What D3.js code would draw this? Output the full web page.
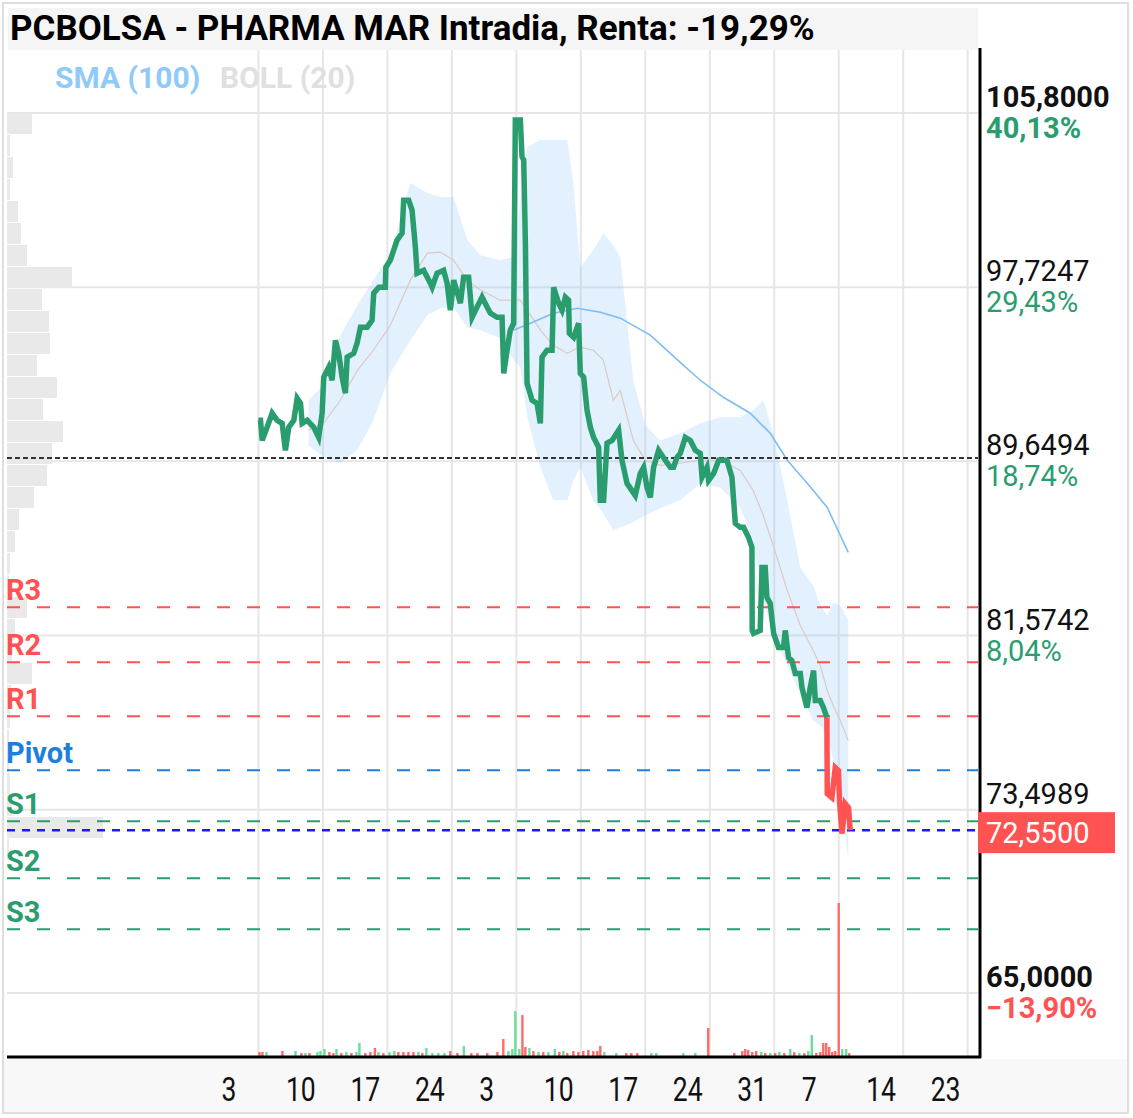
<!DOCTYPE html>
<html>
<head>
<meta charset="utf-8">
<script src="https://cdn.jsdelivr.net/npm/d3@7"></script>
<style>
  body { margin: 0; background: #fff; }
  text { font-family: Roboto, "Noto Sans", sans-serif; }
</style>
</head>
<body>
<svg id="chart" width="1133" height="1118"></svg>
<script>
// ---------- data (x = trading days from first session) ----------
const chartTitle = "PCBOLSA - PHARMA MAR Intradia, Renta: -19,29%";

// intraday price path [day, price]
const priceSeries = [
  [0.00,91.55],[0.16,91.55],[0.29,90.62],[0.67,91.23],[1.06,91.88],[1.45,91.55],[1.84,91.41],[2.09,90.16],
  [2.35,91.23],[2.74,91.55],[3.00,92.57],[3.26,92.34],[3.39,91.41],[3.78,91.55],[4.29,91.23],[4.67,90.76],
  [4.94,91.88],[5.06,93.55],[5.45,94.01],[5.71,93.41],[5.97,95.26],[6.22,94.66],[6.49,93.55],[6.74,92.81],
  [6.88,94.48],[7.39,94.66],[7.65,95.13],[7.91,95.87],[8.43,95.87],[8.81,96.19],[8.94,97.45],[9.33,97.72],
  [9.84,97.72],[9.88,98.65],[10.23,98.98],[10.75,99.91],[11.14,100.23],[11.26,101.76],[11.65,101.76],[11.91,101.30],
  [12.17,99.58],[12.30,98.37],[12.81,98.51],[13.33,97.91],[13.47,97.72],[13.85,98.37],[14.36,98.51],[14.63,97.91],
  [14.88,96.66],[15.14,98.05],[15.66,96.98],[15.91,98.19],[16.30,98.19],[16.57,96.33],[16.95,96.80],[17.34,97.26],
  [17.73,96.80],[17.98,96.52],[18.50,96.33],[18.89,96.33],[19.02,93.73],[19.28,94.80],[19.53,95.73],[19.79,96.05],
  [19.92,105.48],[20.31,105.48],[20.44,103.76],[20.57,103.62],[20.70,99.77],[20.83,93.27],[21.22,92.48],[21.60,92.34],
  [21.86,91.41],[21.99,94.48],[22.38,94.80],[22.77,94.80],[22.89,97.72],[23.28,96.98],[23.54,96.66],[23.80,97.26],
  [24.05,97.12],[24.11,95.59],[24.44,95.40],[24.83,96.05],[24.96,93.73],[25.22,93.55],[25.48,92.02],[25.74,91.23],
  [25.99,90.76],[26.38,90.30],[26.51,87.84],[26.77,87.84],[27.03,90.49],[27.42,90.62],[27.93,91.09],[28.19,89.70],
  [28.58,88.63],[29.22,88.07],[29.61,89.09],[29.87,89.37],[30.13,88.44],[30.39,87.98],[30.64,89.37],[31.03,90.16],
  [31.55,89.70],[31.94,89.37],[32.19,89.37],[32.46,89.83],[32.71,90.02],[33.10,90.76],[33.49,90.62],[33.88,90.16],
  [34.26,90.02],[34.40,88.91],[34.78,89.37],[34.91,88.77],[35.30,89.09],[35.69,89.70],[36.33,89.70],[36.72,88.91],
  [36.98,86.77],[37.36,86.59],[37.62,86.59],[38.01,86.12],[38.27,85.66],[38.29,81.81],[38.39,81.67],[38.91,81.81],
  [39.05,84.73],[39.30,84.73],[39.43,83.34],[39.69,83.06],[39.95,81.67],[40.33,81.02],[40.72,81.02],[40.85,81.81],
  [41.11,80.55],[41.37,80.41],[41.63,79.81],[42.02,79.81],[42.15,79.16],[42.53,78.23],[42.79,79.16],[43.05,79.95],
  [43.18,78.56],[43.57,78.56],[43.82,78.23],[44.08,77.77],
  [44.11,74.24],[44.47,74.06],[44.73,75.45],[44.98,75.31],[45.06,73.92],[45.25,72.39],[45.50,73.78],[45.76,73.59],
  [45.89,72.55]
];
const lastSessionStart = 44.08;   // today's session is drawn red
const lastPrice = 72.55;
const refPrice = 89.8;            // dotted reference line

// Bollinger (20)
const bandDays  = [3.88,5.04,6.36,7.67,8.91,10.23,11.78,13.10,14.11,15.12,16.20,17.21,18.76,19.77,20.31,20.85,21.86,22.87,23.95,24.42,24.96,25.97,26.74,27.52,28.06,29.07,30.00,31.16,32.71,34.26,35.81,37.36,38.37,39.15,39.92,41.01,42.02,43.02,43.57,44.11,44.57,45.12,45.74];
const bandUpper = [92.48,93.18,95.50,96.89,98.05,99.30,102.55,102.09,101.90,101.90,99.91,99.21,98.98,99.12,101.76,104.22,104.55,104.55,104.55,102.55,98.65,99.44,100.23,99.67,99.12,93.41,91.32,90.62,90.95,91.41,91.69,91.69,92.02,92.48,90.95,87.84,84.73,83.89,82.97,82.50,83.11,82.97,82.27];
const bandMid   = [91.09,91.41,92.48,93.87,94.80,95.96,98.05,99.30,99.35,98.98,98.05,97.59,97.12,97.12,97.12,96.66,95.73,95.03,94.66,94.80,94.94,94.80,94.34,92.48,92.94,90.62,89.70,89.46,89.56,89.70,89.70,89.23,88.30,87.14,85.75,83.66,82.04,80.88,80.18,79.02,78.33,77.63,76.70];
const bandLower = [90.39,89.84,89.56,90.16,91.55,93.73,95.26,96.43,96.75,96.80,95.87,95.73,95.36,94.34,94.01,91.69,89.37,87.84,87.84,88.77,89.37,87.84,87.24,86.45,86.59,86.82,87.14,87.47,87.84,88.63,88.44,87.51,85.98,83.20,81.67,80.18,78.88,77.63,77.40,77.03,75.77,73.92,71.27];

// SMA (100)
const smaDays   = [19.77,21.09,22.87,24.73,26.51,28.06,30.39,32.71,34.26,36.05,38.14,39.69,41.01,42.56,44.11,45.74];
const smaValues = [95.73,96.05,96.52,96.75,96.56,96.29,95.50,94.24,93.41,92.62,91.88,90.95,89.70,88.63,87.51,85.43];

// volume bars [day, volume (miles), up?]
const volumeBars = [
  [0.08,5,0],[0.31,5,0],[0.62,5,1],[1.86,6,0],[2.87,6,1],[3.33,4,0],[3.64,4,1],[3.95,4,0],[4.57,5,1],[4.81,6,1],
  [5.12,8,1],[5.50,5,0],[5.81,4,0],[6.05,8,1],[6.43,4,0],[6.82,5,1],[7.21,4,0],[7.60,5,1],[7.83,14,1],[8.29,4,0],
  [8.68,5,0],[9.03,9,0],[9.30,5,1],[9.69,4,0],[10.16,5,1],[10.54,6,1],[10.85,5,0],[11.24,5,0],[11.63,5,0],[12.02,5,0],
  [12.40,5,1],[12.71,4,0],[13.02,9,1],[13.49,4,1],[13.95,4,1],[14.42,4,1],[14.88,6,0],[15.43,4,0],[15.93,11,1],[16.51,4,0],
  [16.98,4,0],[17.75,4,0],[18.53,5,0],[18.99,18,0],[19.38,6,1],[19.69,8,1],[19.92,46,1],[20.23,8,1],[20.47,42,0],[20.70,10,0],
  [21.01,9,1],[21.32,6,0],[21.71,5,1],[22.09,5,0],[22.48,5,1],[22.98,8,1],[23.33,5,0],[23.64,6,1],[23.95,4,0],[24.42,6,0],
  [24.81,5,0],[25.19,6,0],[25.58,7,0],[25.97,6,0],[26.28,6,0],[26.51,11,0],[26.82,5,1],[27.75,4,1],[28.53,4,0],[28.91,4,0],
  [29.38,4,0],[30.47,4,1],[30.85,4,1],[32.95,4,1],[33.88,4,1],[34.88,29,0],[36.90,4,0],[37.52,6,0],[37.75,8,0],[37.98,7,0],
  [38.29,5,0],[38.60,6,0],[38.99,5,1],[39.30,4,0],[39.69,4,1],[40.08,4,0],[40.39,5,1],[40.78,4,0],[41.24,8,1],[41.55,5,0],
  [41.94,4,1],[42.33,4,0],[42.64,6,1],[42.91,22,1],[43.26,4,0],[43.57,5,0],[43.80,14,0],[44.03,14,0],[44.26,10,0],[44.50,5,0],
  [44.73,6,0],[45.00,154,0],[45.27,8,1],[45.58,8,1],[45.81,4,0]
];

// volume profile, 40 price bins from the top of the scale
const profileTop = 105.8;
const profileBin = 1.02;
const profileVolumes = [25,3,6,3,11,14,20,65,35,42,43,30,50,36,56,45,40,27,12,8,3,2,20,8,5,25,4,3,2,2,3,5,96,2,0,0,0,0,0,0];

// pivot levels
const pivotNames  = ["R3","R2","R1","Pivot","S1","S2","S3"];
const pivotValues = [82.88,80.34,77.83,75.33,72.96,70.32,67.95];

// right axis (the change of 73,4989 sits under the last-price box)
const priceTicks = [105.8,97.7247,89.6494,81.5742,73.4989,65];
const pctChanges = [40.13,29.43,18.74,8.04,null,-13.90];

// bottom axis (weekly, trading days)
const weekTicks  = [0,5,10,15,20,25,30,35,40,45,50,55];
const weekLabels = ["3","10","17","24","3","10","17","24","31","7","14","23"];

// ---------- chart ----------
const green = "#2a9d6f", red = "#ff5252";
const svg = d3.select("#chart");
const plot = { left: 7, right: 979, top: 50, bottom: 1057 };

const x = d3.scaleLinear().domain([-19.5, 55.8]).range([7, 978]);
const y = d3.scaleLinear().domain([65, 105.8]).range([993, 113]);
const yVol = d3.scaleLinear().domain([0, 154]).range([plot.bottom, 903]);
const wProfile = d3.scaleLinear().domain([0, 96]).range([0, 96]);

const comma = v => d3.format(".4f")(v).replace(".", ",");
const pct = v => d3.format(".2f")(v).replace(".", ",") + "%";

// frame and panels
svg.append("rect").attr("x", 3).attr("y", 3).attr("width", 1125).attr("height", 1110)
  .attr("fill", "#fff").attr("stroke", "#dedede").attr("stroke-width", 2);
svg.append("rect").attr("x", 4).attr("y", 1059).attr("width", 1123).attr("height", 53).attr("fill", "#f8f8f8");
svg.append("rect").attr("x", 8).attr("y", 8).attr("width", 970).attr("height", 42).attr("fill", "#f5f5f5");

// grid
svg.append("g").selectAll("line").data(weekTicks).join("line")
  .attr("x1", d => x(d)).attr("x2", d => x(d))
  .attr("y1", plot.top).attr("y2", plot.bottom)
  .attr("stroke", "#e6e6e6").attr("stroke-width", 2);
svg.append("g").selectAll("line").data(priceTicks).join("line")
  .attr("x1", plot.left).attr("x2", 978)
  .attr("y1", d => y(d)).attr("y2", d => y(d))
  .attr("stroke", "#e6e6e6").attr("stroke-width", 2);

// volume profile
svg.append("g").selectAll("rect").data(profileVolumes).join("rect")
  .attr("x", plot.left)
  .attr("y", (d, i) => y(profileTop - i * profileBin))
  .attr("width", d => wProfile(d))
  .attr("height", y(profileTop - profileBin) - y(profileTop) - 1)
  .attr("fill", "#e9e9e9");

// Bollinger band
const band = bandDays.map((d, i) => ({ d, u: bandUpper[i], m: bandMid[i], l: bandLower[i] }));
svg.append("path").datum(band)
  .attr("d", d3.area().x(p => x(p.d)).y0(p => y(p.l)).y1(p => y(p.u)))
  .attr("fill", "rgba(144,202,249,0.26)");
svg.append("path").datum(band)
  .attr("d", d3.line().x(p => x(p.d)).y(p => y(p.m)))
  .attr("fill", "none").attr("stroke", "#ddc9c3").attr("stroke-width", 1.2);

// SMA
svg.append("path").datum(smaDays.map((d, i) => [d, smaValues[i]]))
  .attr("d", d3.line().x(p => x(p[0])).y(p => y(p[1])))
  .attr("fill", "none").attr("stroke", "#7dbdf3").attr("stroke-width", 1.6);

// volume bars
svg.append("g").selectAll("rect").data(volumeBars).join("rect")
  .attr("x", d => x(d[0]) - 1.2)
  .attr("y", d => yVol(d[1]))
  .attr("width", 2.4)
  .attr("height", d => plot.bottom - yVol(d[1]))
  .attr("fill", d => d[2] ? "#6fdc9f" : "#ff6b6b");

// pivot lines and labels
const pivotColor = n => n[0] === "R" ? red : n[0] === "S" ? green : "#1e7fe0";
svg.append("g").selectAll("line").data(pivotValues).join("line")
  .attr("x1", plot.left).attr("x2", 978)
  .attr("y1", d => y(d)).attr("y2", d => y(d))
  .attr("stroke", (d, i) => pivotColor(pivotNames[i]))
  .attr("stroke-width", 2).attr("stroke-dasharray", "13,17");
svg.append("g").selectAll("text").data(pivotValues).join("text")
  .attr("x", 6).attr("y", d => y(d) - 7)
  .attr("font-size", 29).attr("font-weight", "bold")
  .attr("fill", (d, i) => pivotColor(pivotNames[i]))
  .text((d, i) => pivotNames[i]);

// reference and last price lines
svg.append("line").attr("x1", plot.left).attr("x2", 978)
  .attr("y1", y(refPrice)).attr("y2", y(refPrice))
  .attr("stroke", "#333").attr("stroke-width", 2).attr("stroke-dasharray", "5,3");
svg.append("line").attr("x1", plot.left).attr("x2", 978)
  .attr("y1", y(lastPrice)).attr("y2", y(lastPrice))
  .attr("stroke", "#1a1aff").attr("stroke-width", 2.5).attr("stroke-dasharray", "8,7");

// price line
const priceLine = d3.line().x(p => x(p[0])).y(p => y(p[1]));
svg.append("path").datum(priceSeries.filter(p => p[0] <= lastSessionStart))
  .attr("d", priceLine).attr("fill", "none")
  .attr("stroke", green).attr("stroke-width", 5.5);
svg.append("path").datum(priceSeries.filter(p => p[0] >= lastSessionStart))
  .attr("d", priceLine).attr("fill", "none")
  .attr("stroke", red).attr("stroke-width", 5.5);

// axes lines
svg.append("line").attr("x1", 980).attr("x2", 980).attr("y1", 48).attr("y2", 1058)
  .attr("stroke", "#000").attr("stroke-width", 3);
svg.append("line").attr("x1", plot.left).attr("x2", 981).attr("y1", plot.bottom).attr("y2", plot.bottom)
  .attr("stroke", "#000").attr("stroke-width", 3);

// right axis labels
const rightAxis = svg.append("g");
priceTicks.forEach((v, i) => {
  const bold = i === 0 || i === priceTicks.length - 1;
  rightAxis.append("text").attr("x", 986).attr("y", y(v) - 6)
    .attr("font-size", 29).attr("font-weight", bold ? "bold" : "normal")
    .attr("fill", "#111").text(comma(v));
  if (pctChanges[i] !== null) {
    rightAxis.append("text").attr("x", 986).attr("y", y(v) + 25)
      .attr("font-size", 29).attr("font-weight", bold ? "bold" : "normal")
      .attr("fill", pctChanges[i] >= 0 ? green : red).text(pct(pctChanges[i]));
  }
});
rightAxis.append("rect").attr("x", 978).attr("y", y(lastPrice) - 18)
  .attr("width", 137).attr("height", 41).attr("fill", red);
rightAxis.append("text").attr("x", 986).attr("y", y(lastPrice) + 13)
  .attr("font-size", 29).attr("fill", "#fff").text(comma(lastPrice));

// bottom axis labels (condensed)
svg.append("g").selectAll("text").data(weekTicks).join("text")
  .attr("transform", d => `translate(${x(d) - 37},1101) scale(0.78,1)`)
  .attr("font-size", 34).attr("fill", "#111")
  .text((d, i) => weekLabels[i]);

// title and legend
const title = svg.append("text").attr("x", 10).attr("y", 40)
  .attr("font-family", "'Open Sans', 'Noto Sans', sans-serif")
  .attr("font-size", 30).attr("font-weight", "bold").attr("fill", "#000")
  .text(chartTitle);
// fit the title to the width it takes in the original
const tw = title.node().getComputedTextLength();
title.attr("font-size", Math.min(36, 30 * 805 / tw));

svg.append("text").attr("x", 55).attr("y", 88)
  .attr("font-size", 30).attr("font-weight", "bold").attr("fill", "#90caf9").text("SMA (100)");
svg.append("text").attr("x", 220).attr("y", 88)
  .attr("font-size", 30).attr("font-weight", "bold").attr("fill", "#e0e0e0").text("BOLL (20)");
</script>
</body>
</html>
